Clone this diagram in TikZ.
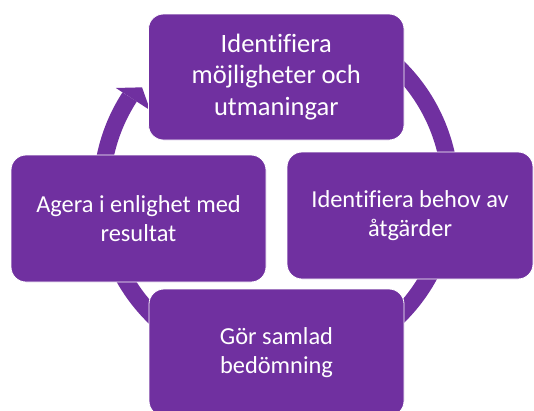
\documentclass[tikz,border=0pt]{standalone}
\usepackage{fontspec}
\setmainfont{Carlito}[Ligatures=NoCommon]
\usetikzlibrary{calc}
\definecolor{pp}{RGB}{112,48,160}
\begin{document}
\begin{tikzpicture}[x=1pt,y=1pt,
  box/.style={draw=white, line width=0.8pt, fill=pp, rounded corners=15pt,
              text=white, align=center, inner sep=0pt},
  big/.style={font=\fontsize{26.5}{31.5}\selectfont},
  small/.style={font=\fontsize{24.4}{28.6}\selectfont},
  ring/.style={draw=pp, line width=17pt},
  head/.style={fill=pp}
]
\useasboundingbox (0,0) rectangle (534,-410);
\clip (0,0) rectangle (534,-410);
\coordinate (C) at (276,-192);
\coordinate (rs) at ($(C)+(70:174.5)$);
\coordinate (ob) at ($(C)+(147:191)$);
\coordinate (tip) at ($(C)+(142:170)$);
\coordinate (ib) at ($(C)+(147:150)$);
\draw[ring] (rs) arc[start angle=70, end angle=-213, radius=174.5];
\fill[head] (ob) -- (tip) -- (ib) -- cycle;

\node[box, big, minimum width=255.5pt, minimum height=126pt] (top) at (276.25,-77)
  {Identifiera\\möjligheter och\\utmaningar};
\node[box, small, minimum width=246pt, minimum height=127pt] (right) at (410,-215.5)
  {Identifiera behov av\\åtgärder};
\node[box, small, minimum width=255pt, minimum height=127pt] (bottom) at (276.5,-352.5)
  {Gör samlad\\bedömning};
\node[box, small, minimum width=255pt, minimum height=127pt] (left) at (138.5,-218.5)
  {Agera i enlighet med\\resultat};
\end{tikzpicture}
\end{document}
